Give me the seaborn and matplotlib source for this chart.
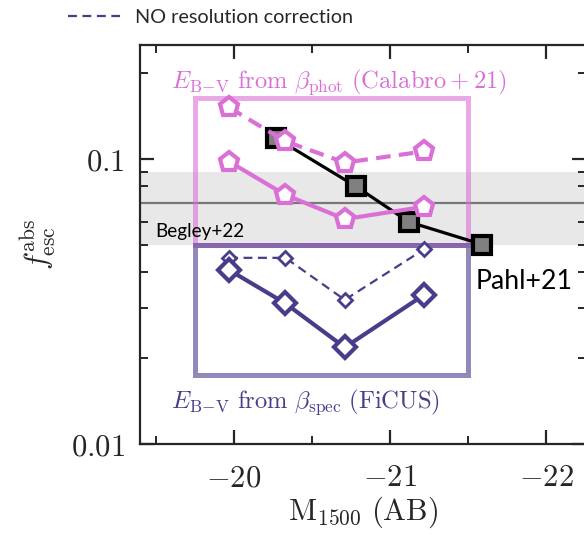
import matplotlib
matplotlib.use("Agg")
import matplotlib.pyplot as plt
from matplotlib.patches import Rectangle
from matplotlib.lines import Line2D
from matplotlib.ticker import FixedLocator, FixedFormatter, NullFormatter
import seaborn as sns

# --- data -------------------------------------------------------------
muv_bins = [-19.97, -20.33, -20.71, -21.22]

fesc_phot_corr = [0.0976, 0.0746, 0.0614, 0.0678]     # beta_phot, resolution corrected
fesc_phot_nocorr = [0.151, 0.115, 0.0968, 0.106]      # beta_phot, no correction
fesc_spec_corr = [0.0407, 0.0311, 0.0218, 0.0334]     # beta_spec, resolution corrected
fesc_spec_nocorr = [0.0449, 0.0449, 0.0320, 0.0482]   # beta_spec, no correction

pahl_muv = [-20.27, -20.78, -21.12, -21.59]
pahl_fesc = [0.118, 0.080, 0.060, 0.050]

begley_fesc = 0.07
begley_lo, begley_hi = 0.05, 0.09

box_muv = [-19.75, -21.5]
box_phot = [0.05, 0.163]
box_spec = [0.0175, 0.05]

xticks = [-20, -21, -22]
xtick_labels = ["$-20$", "$-21$", "$-22$"]
xminor = [-19.5, -20.5, -21.5, -22.5]
yticks = [0.01, 0.1]
ytick_labels = ["$0.01$", "$0.1$"]
yminor = [0.02, 0.03, 0.04, 0.05, 0.06, 0.07, 0.08, 0.09, 0.2]

PINK = "orchid"
PURPLE = "darkslateblue"

# --- style -------------------------------------------------------------
sns.set_theme(style="ticks")
plt.rcParams.update({
    "font.family": ["Lato", "DejaVu Sans"],
    "mathtext.fontset": "cm",
    "xtick.direction": "in",
    "ytick.direction": "in",
    "xtick.top": True,
    "ytick.right": True,
    "axes.linewidth": 1.6,
})

fig = plt.figure(figsize=(5.84, 5.37), dpi=100)
ax = fig.add_axes([140 / 584, 93 / 537, (585.5 - 140) / 584, (444 - 45) / 537])
ax.set_yscale("log")

# Begley+22 band
ax.axhspan(begley_lo, begley_hi, color="gray", alpha=0.18, lw=0, zorder=0)
ax.axhline(begley_fesc, color="#777777", lw=1.6, zorder=1)

# validity boxes
ax.add_patch(Rectangle((box_muv[0], box_phot[0]), box_muv[1] - box_muv[0],
                       box_phot[1] - box_phot[0], fill=False, ec=PINK,
                       lw=3.6, alpha=0.6, zorder=1))
ax.add_patch(Rectangle((box_muv[0], box_spec[0]), box_muv[1] - box_muv[0],
                       box_spec[1] - box_spec[0], fill=False, ec=PURPLE,
                       lw=3.6, alpha=0.6, zorder=1))

common = dict(estimator=None, sort=False, ax=ax, legend=False)

# Pahl+21
sns.lineplot(x=pahl_muv, y=pahl_fesc, color="black", lw=2.3, marker="s",
             markersize=12.5, markerfacecolor="gray", markeredgecolor="black",
             markeredgewidth=3, zorder=3, **common)

# beta_spec
sns.lineplot(x=muv_bins, y=fesc_spec_nocorr, color=PURPLE, lw=1.6,
             linestyle=(0, (4, 2.5)), marker="D", markersize=7.5,
             markerfacecolor="white", markeredgecolor=PURPLE,
             markeredgewidth=2, zorder=4, **common)
sns.lineplot(x=muv_bins, y=fesc_spec_corr, color=PURPLE, lw=3, marker="D",
             markersize=11, markerfacecolor="white", markeredgecolor=PURPLE,
             markeredgewidth=3, zorder=5, **common)

# beta_phot
sns.lineplot(x=muv_bins, y=fesc_phot_nocorr, color=PINK, lw=3,
             linestyle=(0, (3.5, 2)), marker="p", markersize=14,
             markerfacecolor="white", markeredgecolor=PINK,
             markeredgewidth=3, zorder=5, **common)
sns.lineplot(x=muv_bins, y=fesc_phot_corr, color=PINK, lw=3, marker="p",
             markersize=14, markerfacecolor="white", markeredgecolor=PINK,
             markeredgewidth=3, zorder=5, **common)

# annotations
ax.text(-19.6, 0.185,
        r"$E_{\rm B\!-\!V}\ \mathrm{from}\ \beta_{\rm phot}\ \mathrm{(Calabro+21)}$",
        color=PINK, fontsize=17.7, va="center", ha="left")
ax.text(-19.6, 0.0140,
        r"$E_{\rm B\!-\!V}\ \mathrm{from}\ \beta_{\rm spec}\ \mathrm{(FiCUS)}$",
        color=PURPLE, fontsize=17.7, va="center", ha="left")
ax.text(-19.5, 0.0555, "Begley+22", color="black", fontsize=13.6,
        va="center", ha="left")
ax.text(-21.55, 0.0370, "Pahl+21", color="black", fontsize=19.2,
        va="center", ha="left")

# axes
ax.set_xlim(-19.4, -22.25)
ax.set_ylim(0.01, 0.25)
ax.xaxis.set_major_locator(FixedLocator(xticks))
ax.xaxis.set_major_formatter(FixedFormatter(xtick_labels))
ax.xaxis.set_minor_locator(FixedLocator(xminor))
ax.yaxis.set_major_locator(FixedLocator(yticks))
ax.yaxis.set_major_formatter(FixedFormatter(ytick_labels))
ax.yaxis.set_minor_locator(FixedLocator(yminor))
ax.yaxis.set_minor_formatter(NullFormatter())
ax.tick_params(which="major", length=10, width=1.6, labelsize=22)
ax.tick_params(axis="x", which="major", pad=14)
ax.tick_params(axis="y", which="major", pad=11)
ax.tick_params(which="minor", length=5.5, width=1.4)

ax.set_xlabel(r"$\mathrm{M}_{1500}\ \mathrm{(AB)}$", fontsize=22, labelpad=2)
ax.set_ylabel(r"$f_{\rm esc}^{\rm abs}$", fontsize=22, labelpad=9)

# legend above the axes
handle = Line2D([], [], color=PURPLE, lw=1.6, linestyle=(0, (4, 2.5)))
fig.legend([handle], ["NO resolution correction"], loc="center left",
           bbox_to_anchor=(50 / 584, 1 - 17.5 / 537), frameon=False,
           fontsize=14.3, handlelength=2.6, handletextpad=0.8)

fig.savefig("out.png", dpi=100)
